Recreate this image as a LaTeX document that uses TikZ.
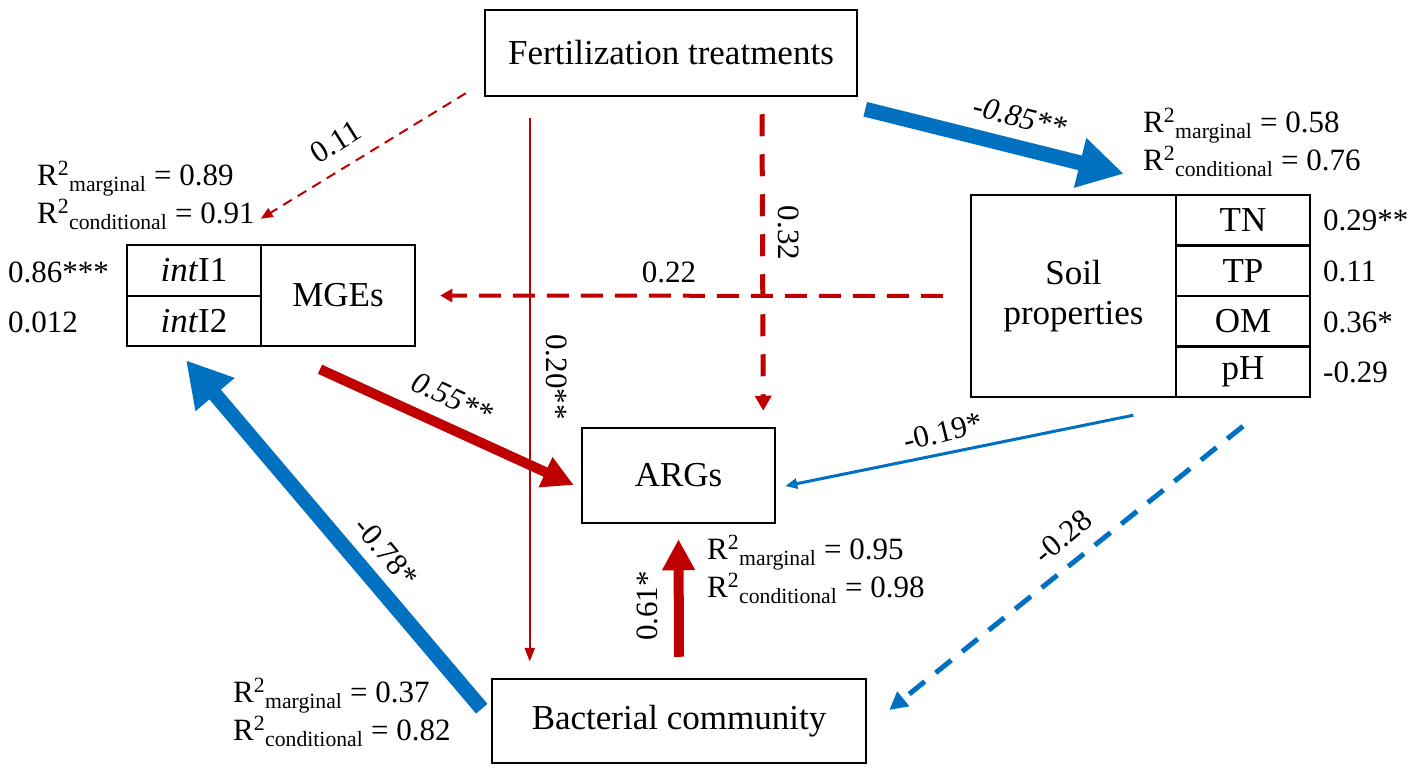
\documentclass[tikz,border=0pt]{standalone}
\usepackage{fontspec}
\setmainfont{Liberation Serif}
\usepackage{tikz}
\usetikzlibrary{arrows.meta}
\usetikzlibrary{positioning}
\definecolor{arrred}{RGB}{192,0,0}
\definecolor{arrblue}{RGB}{0,112,192}

\begin{document}
\begin{tikzpicture}[x=1pt,y=-1pt,
	box/.style={draw,line width=2.5pt,inner sep=0pt,font=\fontsize{35}{40}\selectfont},
	lab/.style={inner sep=0pt,font=\fontsize{31}{38}\selectfont},
	rsq/.style={lab,align=left,anchor=base west},
	fatblue/.style={arrblue,line width=15pt,-{Triangle[length=45pt,width=48pt]}},
	fatred/.style={arrred,line width=10pt,-{Triangle[length=31pt,width=31pt]}}]
	\useasboundingbox (0,0) rectangle (1418,773);
	% boxes
	\node[box,minimum width=372pt,minimum height=86pt] (fert) at (671,53) {Fertilization treatments};
	\node[box,minimum width=134pt,minimum height=51pt] (int1) at (194,270.5) {\textit{int}I1};
	\node[box,minimum width=134pt,minimum height=50pt] (int2) at (194,321) {\textit{int}I2};
	\node[box,minimum width=154pt,minimum height=101pt] (mges) at (338,295.5) {MGEs};
	\node[box,minimum width=205pt,minimum height=202pt,align=center] (soil) at (1073.5,296) {Soil\\properties};
	\node[box,minimum width=134pt,minimum height=50.5pt] (tn) at (1243,220.25) {TN};
	\node[box,minimum width=134pt,minimum height=50.5pt] (tp) at (1243,270.75) {TP};
	\node[box,minimum width=134pt,minimum height=50.5pt] (om) at (1243,321.25) {OM};
	\node[box,minimum width=134pt,minimum height=50.5pt] (ph) at (1243,371.75) {pH};
	\node[box,minimum width=193pt,minimum height=95pt] (args) at (678.5,475.5) {ARGs};
	\node[box,minimum width=374pt,minimum height=84pt] (bact) at (679,721) {Bacterial community};
	% loadings
	\node[lab,anchor=west] (v1) at (8,272) {0.86***};
	\node[lab,anchor=west] (v2) at (8,322) {0.012};
	\node[lab,anchor=west] (vtn) at (1323,220) {0.29**};
	\node[lab,anchor=west] (vtp) at (1323,271) {0.11};
	\node[lab,anchor=west] (vom) at (1323,322) {0.36*};
	\node[lab,anchor=west] (vph) at (1323,372) {-0.29};
	% R2 (base = last line)
	\node[rsq] (rmge) at (37,223) {R\textsuperscript{2}\textsubscript{marginal} = 0.89\\R\textsuperscript{2}\textsubscript{conditional} = 0.91};
	\node[rsq] (rsoil) at (1143,170) {R\textsuperscript{2}\textsubscript{marginal} = 0.58\\R\textsuperscript{2}\textsubscript{conditional} = 0.76};
	\node[rsq] (rargs) at (707,597) {R\textsuperscript{2}\textsubscript{marginal} = 0.95\\R\textsuperscript{2}\textsubscript{conditional} = 0.98};
	\node[rsq] (rbact) at (233,740) {R\textsuperscript{2}\textsubscript{marginal} = 0.37\\R\textsuperscript{2}\textsubscript{conditional} = 0.82};
	% paths
	\draw[fatblue] ([xshift=7pt,yshift=-12pt]fert.south east) -- ([xshift=154pt,yshift=20pt]soil.north west);
	\draw[arrred,line width=2pt,dash pattern=on 10pt off 7pt,-{Triangle[length=12pt,width=10pt]}] ([xshift=-18pt,yshift=4pt]fert.south west) -- ([xshift=1pt,yshift=25pt]mges.north west);
	\draw[arrred,line width=2.5pt,-{Triangle[length=14pt,width=10pt]}] ([xshift=46pt,yshift=-21pt]fert.south west) -- ([xshift=39pt,yshift=16pt]bact.north west);
	\draw[arrred,line width=5pt,dash pattern=on 22pt off 18pt,-{Triangle[length=15pt,width=16pt]}] ([xshift=91pt,yshift=-17pt]fert.south) -- ([xshift=-13pt,yshift=16pt]args.north east);
	\draw[arrred,line width=4pt,dash pattern=on 22pt off 12pt,-{Triangle[length=12pt,width=13pt]}] ([xshift=-27pt]soil.west) -- ([xshift=24pt]mges.east);
	\draw[fatred] ([xshift=-18pt,yshift=-22pt]mges.south) -- ([xshift=-7pt,yshift=-9.5pt]args.west);
	\draw[arrblue,line width=3pt,-{Triangle[length=12pt,width=10pt]}] ([xshift=-44pt,yshift=-17pt]soil.south east) -- ([xshift=9pt,yshift=-10.5pt]args.east);
	\draw[arrblue,line width=5pt,dash pattern=on 20pt off 14pt,-{Triangle[length=18pt,width=18pt]}] ([yshift=-28pt]ph.south) -- ([xshift=22pt,yshift=11pt]bact.east);
	\draw[fatred] ([yshift=21pt]bact.north) -- ([yshift=-15pt]args.south);
	\draw[fatblue] ([xshift=-9pt,yshift=-31pt]bact.north west) -- ([xshift=-8pt,yshift=-13pt]int2.south);
	% path labels
	\node[lab,rotate=32] (lab11) at (336,142) {0.11};
	\node[lab,rotate=-14] (lab85) at (1020,117) {\textit{-0.85**}};
	\node[lab,rotate=-90] (lab32) at (789,233) {0.32};
	\node[lab] (lab22) at (669,272) {0.22};
	\node[lab,rotate=-90] (lab20) at (557,377) {0.20**};
	\node[lab,rotate=-25] (lab55) at (452,398) {\textit{0.55**}};
	\node[lab,rotate=14] (lab19) at (943,432) {-0.19*};
	\node[lab,rotate=40] (lab28) at (1063,537) {-0.28};
	\node[lab,rotate=-50] (lab78) at (386,552) {-0.78*};
	\node[lab,rotate=90] (lab61) at (647,606) {0.61*};
\end{tikzpicture}
\end{document}
